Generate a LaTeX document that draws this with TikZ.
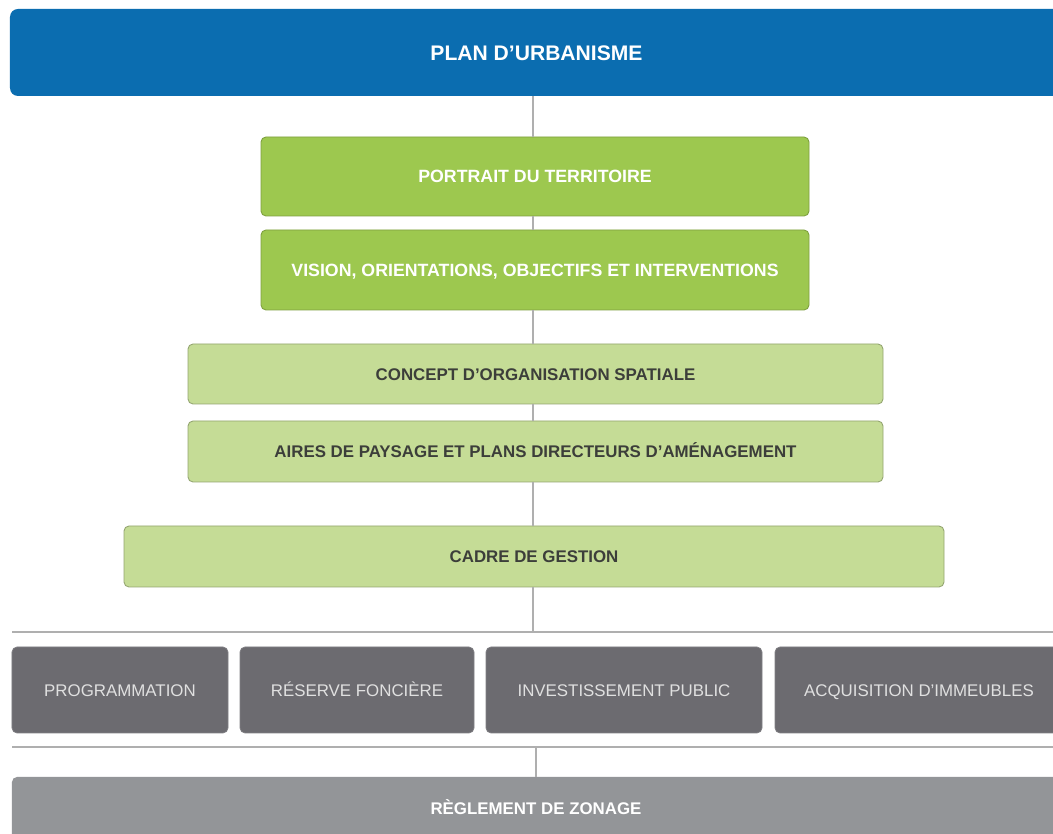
\documentclass[tikz,border=0pt]{standalone}
\usepackage{fontspec}
\setmainfont{Liberation Sans}
\usetikzlibrary{positioning}
\definecolor{bleuplan}{RGB}{11,109,176}
\definecolor{vertfonce}{RGB}{157,200,79}
\definecolor{vertclair}{RGB}{197,220,150}
\definecolor{grisfonce}{RGB}{108,107,112}
\definecolor{grisclair}{RGB}{147,149,152}
\definecolor{trait}{RGB}{175,175,175}
\definecolor{textefonce}{RGB}{60,62,58}
\begin{document}
\begin{tikzpicture}[
	boite/.style={rectangle,rounded corners=1mm,inner sep=0pt,align=center,text height=7pt,text depth=0pt,font=\fontsize{9.6}{11}\selectfont},
	niveau1/.style={boite,fill=vertfonce,draw=vertfonce!80!black,line width=0.5pt,text=white,font=\fontsize{10.1}{12}\selectfont\bfseries},
	niveau2/.style={boite,fill=vertclair,draw=vertclair!75!black,line width=0.5pt,text=textefonce,font=\fontsize{9.6}{11}\selectfont\bfseries},
	outil/.style={boite,fill=grisfonce,draw=grisfonce!85!white,line width=0.4pt,text=white!88!black,minimum height=1.72cm},
	lien/.style={draw=trait,line width=0.8pt}]
	\clip (0,0) rectangle (21.06,16.68);
	\fill[white] (0,0) rectangle (21.06,16.68);
	\node[boite,fill=bleuplan,rounded corners=1.6mm,minimum width=21.06cm,minimum height=1.74cm,text height=8.6pt,text=white,font=\fontsize{12}{14}\selectfont\bfseries] (plan) at (10.73,15.63) {PLAN D'URBANISME};
	\node[niveau1,minimum width=10.96cm,minimum height=1.58cm] (portrait) at (10.7,13.15) {PORTRAIT DU TERRITOIRE};
	\node[niveau1,minimum width=10.96cm,minimum height=1.6cm] (vision) at (10.7,11.28) {VISION, ORIENTATIONS, OBJECTIFS ET INTERVENTIONS};
	\node[niveau2,minimum width=13.9cm,minimum height=1.2cm] (concept) at (10.71,9.2) {CONCEPT D'ORGANISATION SPATIALE};
	\node[niveau2,minimum width=13.9cm,minimum height=1.22cm] (aires) at (10.71,7.65) {AIRES DE PAYSAGE ET PLANS DIRECTEURS D'AMÉNAGEMENT};
	\node[niveau2,minimum width=16.4cm,minimum height=1.22cm] (cadre) at (10.68,5.55) {CADRE DE GESTION};
	\coordinate (ligneA) at (0.24,4.04);
	\coordinate (ligneB) at (0.24,1.74);
	\node[outil,minimum width=4.32cm] (programmation) at (2.4,2.88) {PROGRAMMATION};
	\node[outil,minimum width=4.68cm] (reserve) at (7.14,2.88) {RÉSERVE FONCIÈRE};
	\node[outil,minimum width=5.52cm] (investissement) at (12.48,2.88) {INVESTISSEMENT PUBLIC};
	\node[outil,minimum width=5.76cm] (acquisition) at (18.38,2.88) {ACQUISITION D'IMMEUBLES};
	\node[boite,fill=grisclair,minimum width=20.96cm,minimum height=1.24cm,text=white,font=\fontsize{9.6}{11}\selectfont\bfseries] (reglement) at (10.72,0.52) {RÈGLEMENT DE ZONAGE};
	\draw[lien] (ligneA) -- (21.06,4.04);
	\draw[lien] (ligneB) -- (21.06,1.74);
	\draw[lien] (10.66,0 |- plan.south) -- (10.66,0 |- portrait.north);
	\draw[lien] (10.66,0 |- portrait.south) -- (10.66,0 |- vision.north);
	\draw[lien] (10.66,0 |- vision.south) -- (10.66,0 |- concept.north);
	\draw[lien] (10.66,0 |- concept.south) -- (10.66,0 |- aires.north);
	\draw[lien] (10.66,0 |- aires.south) -- (10.66,0 |- cadre.north);
	\draw[lien] (10.66,0 |- cadre.south) -- (10.66,0 |- ligneA);
	\draw[lien] (10.72,0 |- ligneB) -- (10.72,0 |- reglement.north);
\end{tikzpicture}
\end{document}
